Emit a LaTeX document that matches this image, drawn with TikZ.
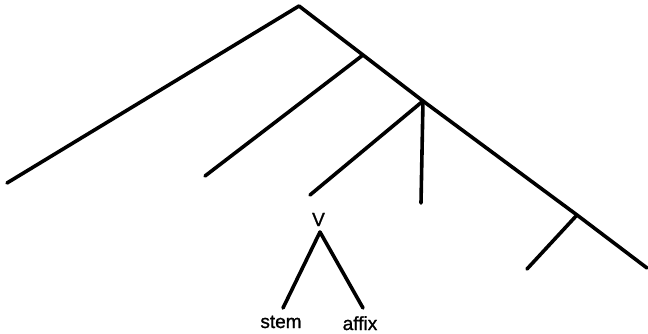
\documentclass[tikz,border=0pt]{standalone}
\usepackage{fontspec}
\setmainfont{Liberation Sans}
\newfontfamily\lblfont[FakeBold=1.2]{Liberation Sans}
\begin{document}
\begin{tikzpicture}[x=1pt,y=-1pt,
  branch/.style={line width=3.6pt,line cap=round,line join=round},
  lbl/.style={font=\lblfont\fontsize{19}{21}\selectfont,inner sep=0pt}]
\useasboundingbox (0,0) rectangle (648,333);
\coordinate (root) at (299,6);
\coordinate (leftend) at (7,183);
\coordinate (n1) at (363,55);
\coordinate (n1end) at (205,176);
\coordinate (n2) at (423,101);
\coordinate (n2left) at (310,195);
\coordinate (n2down) at (421,203);
\coordinate (n3) at (577,215);
\coordinate (n3end) at (527,269);
\coordinate (spineend) at (647,268);
\coordinate (vtop) at (320,232);
\coordinate (stemtop) at (283,308);
\coordinate (affixtop) at (363,308);
\node[lbl] (V) at (318.5,219.5) {V};
\node[lbl,anchor=base] (stem) at (281,328) {stem};
\node[lbl,anchor=base] (affix) at (360,330) {affix};
\draw[branch] (leftend) -- (root) -- (n1) -- (n2) -- (n3) -- (spineend);
\draw[branch] (n1) -- (n1end);
\draw[branch] (n2) -- (n2left);
\draw[branch] (n2) -- (n2down);
\draw[branch] (n3) -- (n3end);
\draw[branch] (stemtop) -- (vtop) -- (affixtop);
\end{tikzpicture}
\end{document}
